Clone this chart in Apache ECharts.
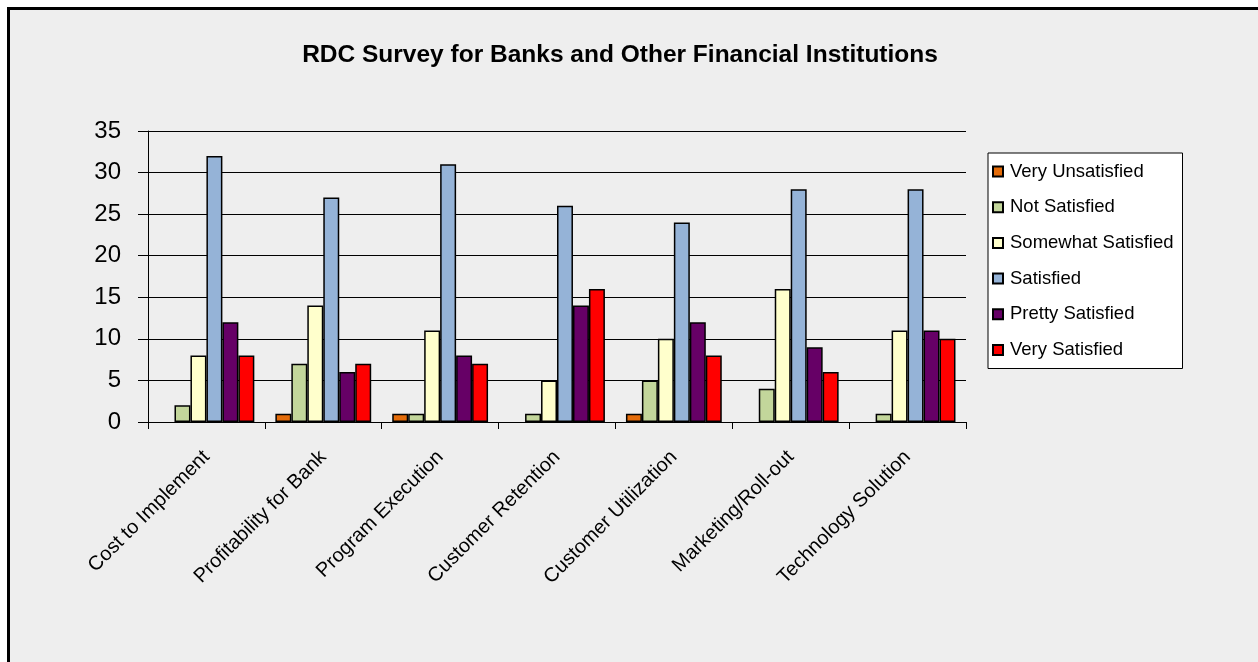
<!DOCTYPE html>
<html>
<head>
<meta charset="utf-8">
<script src="https://cdn.jsdelivr.net/npm/echarts@6/dist/echarts.min.js"></script>
<style>
  html, body { margin: 0; padding: 0; background: #ffffff; }
  #frame {
    position: absolute; left: 7px; top: 7px; width: 1249px; height: 660px;
    border-top: 3px solid #000; border-left: 3px solid #000; border-right: 1px solid #888;
    background: #eeeeee;
  }
  #main { position: absolute; left: 0; top: 0; width: 1258px; height: 662px; }
</style>
</head>
<body>
<div id="frame"></div>
<div id="main"></div>
<script>
// categories
var categories = ['Cost to Implement', 'Profitability for Bank', 'Program Execution',
  'Customer Retention', 'Customer Utilization', 'Marketing/Roll-out', 'Technology Solution'];

// series values
var veryUnsatisfied   = [0, 1, 1, 0, 1, 0, 0];
var notSatisfied      = [2, 7, 1, 1, 5, 4, 1];
var somewhatSatisfied = [8, 14, 11, 5, 10, 16, 11];
var satisfied         = [32, 27, 31, 26, 24, 28, 28];
var prettySatisfied   = [12, 6, 8, 14, 12, 9, 11];
var verySatisfied     = [8, 7, 7, 16, 8, 6, 10];

var seriesNames = ['Very Unsatisfied', 'Not Satisfied', 'Somewhat Satisfied',
  'Satisfied', 'Pretty Satisfied', 'Very Satisfied'];
var seriesData = [veryUnsatisfied, notSatisfied, somewhatSatisfied, satisfied, prettySatisfied, verySatisfied];
var colors = ['#e46c0a', '#c3d69b', '#ffffcc', '#95b3d7', '#660066', '#ff0000'];

var font = 'Liberation Sans, Arial, sans-serif';

var chart = echarts.init(document.getElementById('main'));

var option = {
  backgroundColor: 'transparent',
  animation: false,
  title: {
    text: 'RDC Survey for Banks and Other Financial Institutions',
    left: 615,
    top: 38,
    textAlign: 'center',
    textStyle: { fontFamily: font, fontSize: 24.5, fontWeight: 'bold', color: '#000' }
  },
  legend: {
    orient: 'vertical',
    left: 988,
    top: 153,
    backgroundColor: '#ffffff',
    borderColor: '#000',
    borderWidth: 1,
    padding: [8, 9, 8, 4],
    itemWidth: 10,
    itemHeight: 10,
    itemGap: 14.7,
    icon: 'rect',
    textStyle: { fontFamily: font, fontSize: 18.5, color: '#000', lineHeight: 21, padding: [0, 0, 0, 2] },
    data: seriesNames
  },
  grid: { left: 148, right: 292, top: 131, bottom: 240 },
  xAxis: {
    type: 'category',
    data: categories,
    axisLine: { lineStyle: { color: '#000', width: 1 } },
    axisTick: { show: true, length: 7, lineStyle: { color: '#000' } },
    axisLabel: {
      rotate: 45,
      interval: 0,
      margin: 32,
      fontFamily: font,
      fontSize: 20,
      color: '#000'
    }
  },
  yAxis: {
    type: 'value',
    min: 0,
    max: 35,
    interval: 5,
    axisLine: { show: true, lineStyle: { color: '#000', width: 1 } },
    axisTick: { show: true, length: 10, lineStyle: { color: '#000' } },
    axisLabel: { fontFamily: font, fontSize: 24, color: '#000', margin: 27 },
    splitLine: { show: true, lineStyle: { color: '#000', width: 1 } }
  },
  series: seriesNames.map(function (name, i) {
    return {
      name: name,
      type: 'bar',
      // zero-height bars are not drawn in the original
      data: seriesData[i].map(function (v) { return v === 0 ? null : v; }),
      barGap: '0%',
      barCategoryGap: '18%',
      itemStyle: { color: colors[i], borderColor: '#000', borderWidth: 1.5 },
      emphasis: { disabled: true }
    };
  })
};

chart.setOption(option);
</script>
</body>
</html>
